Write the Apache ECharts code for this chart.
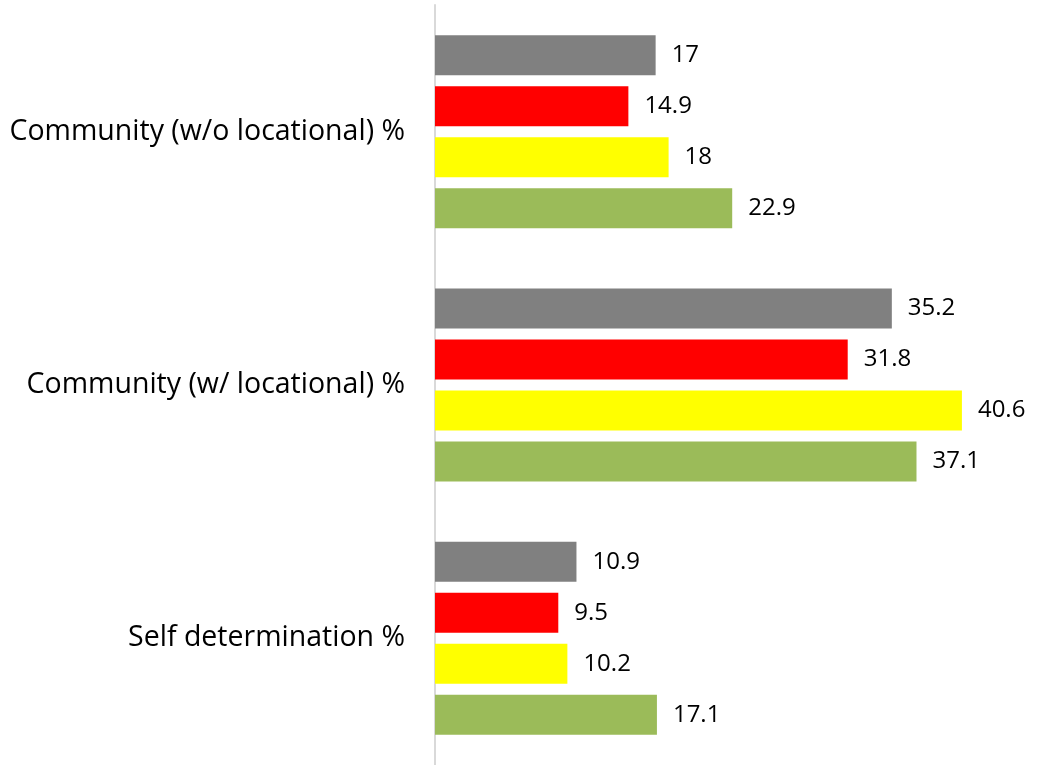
<!DOCTYPE html>
<html>
<head>
<meta charset="utf-8">
<script src="https://cdn.jsdelivr.net/npm/echarts@6/dist/echarts.min.js"></script>
<style>
  html, body { margin: 0; padding: 0; background: #fff; }
  #chart { width: 1037px; height: 765px; }
</style>
</head>
<body>
<div id="chart"></div>
<script>
// Categories, top to bottom
const categories = ['Community (w/o locational) %', 'Community (w/ locational) %', 'Self determination %'];

// Four series per category, drawn top to bottom within each group
const greyValues   = [17, 35.2, 10.9];
const redValues    = [14.9, 31.8, 9.5];
const yellowValues = [18, 40.6, 10.2];
const greenValues  = [22.9, 37.1, 17.1];

const seriesDefs = [
  { name: 'Grey',   data: greyValues,   color: '#808080' },
  { name: 'Red',    data: redValues,    color: '#FF0000' },
  { name: 'Yellow', data: yellowValues, color: '#FFFF00' },
  { name: 'Green',  data: greenValues,  color: '#9BBB59' }
];

const chart = echarts.init(document.getElementById('chart'));
chart.setOption({
  animation: false,
  backgroundColor: '#ffffff',
  grid: { left: 435, right: 5, top: 5, bottom: 0, containLabel: false },
  xAxis: {
    type: 'value',
    min: 0,
    max: 46,
    show: false
  },
  yAxis: {
    type: 'category',
    data: categories,
    inverse: true,
    axisLine: { show: true, lineStyle: { color: '#d9d9d9', width: 2 } },
    axisTick: { show: false },
    axisLabel: {
      color: '#000',
      fontFamily: 'Open Sans',
      fontSize: 28.5,
      margin: 30,
      padding: [4, 0, 0, 0]
    }
  },
  series: seriesDefs.map(s => ({
    type: 'bar',
    name: s.name,
    data: s.data,
    barWidth: 40,
    barGap: '27.5%',
    itemStyle: { color: s.color },
    label: {
      show: true,
      position: 'right',
      distance: 16,
      color: '#000',
      fontFamily: 'Open Sans',
      fontSize: 24,
      padding: [3, 0, 0, 0]
    }
  }))
});
</script>
</body>
</html>
